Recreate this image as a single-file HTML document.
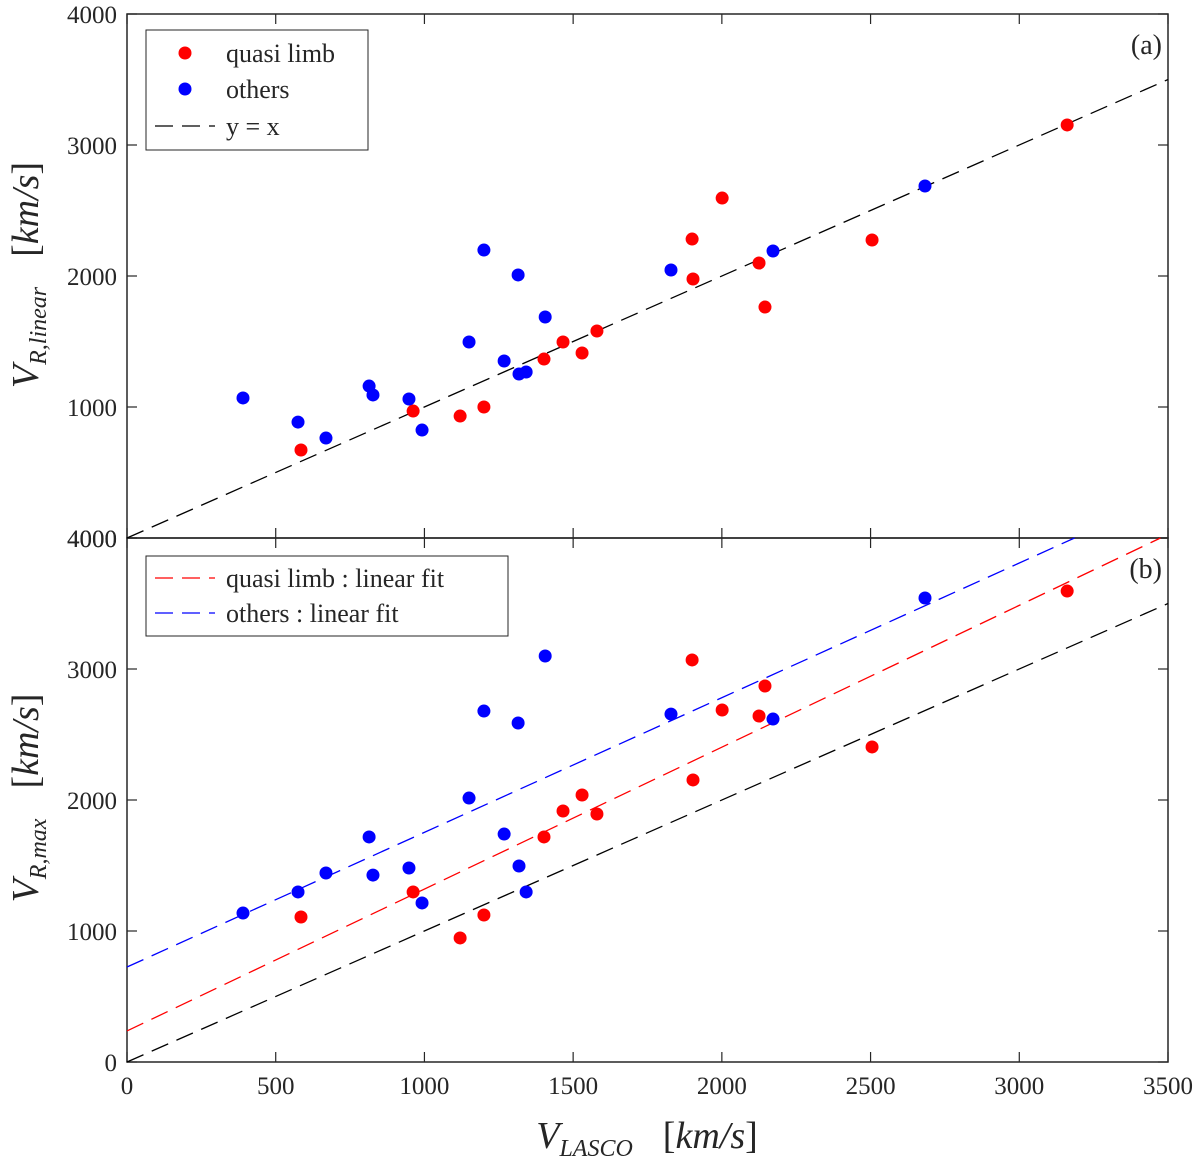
<!DOCTYPE html>
<html><head><meta charset="utf-8"><style>
body{margin:0;background:#fff}
svg text{font-family:"Liberation Serif",serif;fill:#262626}
</style></head><body>
<svg id="chart" width="1200" height="1160" xmlns="http://www.w3.org/2000/svg"></svg>
<script>
const xTicks=[0,500,1000,1500,2000,2500,3000,3500];
const yTicksA=[4000,3000,2000,1000,4000];
const yTickValsA=[4000,3000,2000,1000,0];
const yTicksB=[4000,3000,2000,1000,0];
const limbX=[585,962,1120,1200,1402,1466,1530,1580,1900,1903,2001,2125,2145,2505,3161];
const limbLinear=[672,969,931,1000,1366,1496,1412,1580,2282,1977,2595,2099,1763,2275,3153];
const limbMax=[1107,1298,947,1122,1718,1916,2038,1893,3069,2153,2687,2641,2870,2405,3595];
const othersX=[390,575,669,814,827,948,992,1150,1200,1268,1315,1318,1342,1406,1829,2172,2683];
const othersLinear=[1069,885,763,1160,1092,1061,824,1496,2198,1351,2008,1252,1267,1687,2046,2191,2687];
const othersMax=[1137,1298,1443,1718,1427,1481,1214,2015,2679,1740,2588,1496,1298,3099,2656,2618,3542];
const fitLimb=[1.083,237];
const fitOthers=[1.028,725];

const svg=document.getElementById('chart');
const NS='http://www.w3.org/2000/svg';
const X0=127,X1=1168;
const DASH='18,9';
const xs=v=>X0+(v/3500)*(X1-X0);
const panels=[{top:14,bot:538},{top:538,bot:1062}];
const ys=(p,v)=>p.bot-(v/4000)*(p.bot-p.top);
function mk(tag,attrs,parent){const e=document.createElementNS(NS,tag);for(const k in attrs)e.setAttribute(k,attrs[k]);(parent||svg).appendChild(e);return e;}
function txt(s,x,y,size,anchor,parent){const t=mk('text',{x:x,y:y,'font-size':size,'text-anchor':anchor||'start'},parent);t.textContent=s;return t;}

function clipLine(p,m,b,color,name){
  let xa=0,xb=3500;
  const xTop=(4000-b)/m; if(xTop<xb)xb=xTop;
  const xBot=(0-b)/m; if(xBot>xa)xa=xBot;
  const l=mk('line',{x1:xs(xa),y1:ys(p,m*xa+b),x2:xs(xb),y2:ys(p,m*xb+b),stroke:color,'stroke-width':1.3,'stroke-dasharray':DASH});
  
  
}
function dots(p,xsArr,ysArr,color,name){
  const g=mk('g',{});
  
  
  for(let i=0;i<xsArr.length;i++){
    const c=mk('circle',{cx:xs(xsArr[i]),cy:ys(p,ysArr[i]),r:6.5,fill:color},g);
    
    
  }
}
function axes(p,labels,vals,name,showX){
  const g=mk('g',{});
  
  
  mk('rect',{x:X0,y:p.top,width:X1-X0,height:p.bot-p.top,fill:'none',stroke:'#262626','stroke-width':1.5},g);
  xTicks.forEach(v=>{
    const x=xs(v);
    mk('line',{x1:x,y1:p.bot,x2:x,y2:p.bot-10,stroke:'#262626','stroke-width':1.2},g);
    mk('line',{x1:x,y1:p.top,x2:x,y2:p.top+10,stroke:'#262626','stroke-width':1.2},g);
    if(showX)txt(String(v),x,p.bot+32,25,'middle',g);
  });
  vals.forEach((v,i)=>{
    const y=ys(p,v);
    mk('line',{x1:X0,y1:y,x2:X0+10,y2:y,stroke:'#262626','stroke-width':1.2},g);
    mk('line',{x1:X1,y1:y,x2:X1-10,y2:y,stroke:'#262626','stroke-width':1.2},g);
    txt(String(labels[i]),117,y+9,25,'end',g);
  });
}
const pa=panels[0],pb=panels[1];
axes(pa,yTicksA,yTickValsA,'panel-a-axes',false);
axes(pb,yTicksB,yTicksB,'panel-b-axes',true);

clipLine(pa,1,0,'#000','identity-line-a');
dots(pa,limbX,limbLinear,'#ff0000','quasi-limb-series-a');
dots(pa,othersX,othersLinear,'#0000ff','others-series-a');

clipLine(pb,1,0,'#000','identity-line-b');
clipLine(pb,fitLimb[0],fitLimb[1],'#ff0000','quasi-limb-fit-line');
clipLine(pb,fitOthers[0],fitOthers[1],'#0000ff','others-fit-line');
dots(pb,limbX,limbMax,'#ff0000','quasi-limb-series-b');
dots(pb,othersX,othersMax,'#0000ff','others-series-b');

let t=txt('(a)',1162,54,28,'end');
t=txt('(b)',1162,578,28,'end');

let lg=mk('g',{});
mk('rect',{x:146,y:30,width:222,height:120,fill:'#fff',stroke:'#262626','stroke-width':1},lg);
let le=mk('g',{},lg);
mk('circle',{cx:185,cy:53,r:6.5,fill:'#ff0000'},le);txt('quasi limb',226,62,26,'start',le);
le=mk('g',{},lg);
mk('circle',{cx:185,cy:89,r:6.5,fill:'#0000ff'},le);txt('others',226,98,26,'start',le);
le=mk('g',{},lg);
mk('line',{x1:155,y1:126,x2:215,y2:126,stroke:'#000','stroke-width':1.3,'stroke-dasharray':DASH},le);txt('y = x',226,135,26,'start',le);

lg=mk('g',{});
mk('rect',{x:146,y:556,width:362,height:80,fill:'#fff',stroke:'#262626','stroke-width':1},lg);
le=mk('g',{},lg);
mk('line',{x1:155,y1:578,x2:215,y2:578,stroke:'#ff0000','stroke-width':1.3,'stroke-dasharray':DASH},le);txt('quasi limb : linear fit',226,587,26,'start',le);
le=mk('g',{},lg);
mk('line',{x1:155,y1:613,x2:215,y2:613,stroke:'#0000ff','stroke-width':1.3,'stroke-dasharray':DASH},le);txt('others : linear fit',226,622,26,'start',le);

function ytitle(name,y,sub){
  const g=mk('g',{transform:'translate(38,'+y+') rotate(-90)'});
  
  const tt=mk('text',{x:0,y:0,'font-size':38,'text-anchor':'middle'},g);
  tt.innerHTML='<tspan font-style="italic">V</tspan><tspan font-style="italic" font-size="24" dy="8">'+sub+'</tspan><tspan dy="-8" dx="30">[</tspan><tspan font-style="italic">km/s</tspan><tspan>]</tspan>';
}
ytitle('y-axis-title-a',275,'R,linear');
ytitle('y-axis-title-b',798,'R,max');
const xt=mk('text',{x:647,y:1148,'font-size':38,'text-anchor':'middle'});

xt.innerHTML='<tspan font-style="italic">V</tspan><tspan font-style="italic" font-size="24" dy="8">LASCO</tspan><tspan dy="-8" dx="30">[</tspan><tspan font-style="italic">km/s</tspan><tspan>]</tspan>';
</script>
</body></html>
